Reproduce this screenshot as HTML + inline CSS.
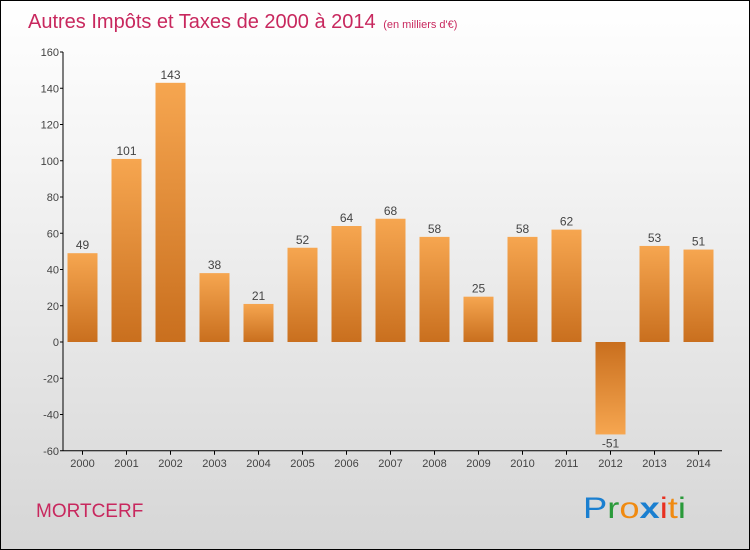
<!DOCTYPE html>
<html><head><meta charset="utf-8"><style>
body{margin:0}
#c{width:748px;height:548px;border:1px solid #000;position:relative;background:linear-gradient(#fff,#f4f4f4 30%,#d6d6d6);font-family:"Liberation Sans",sans-serif;overflow:hidden}
svg{position:absolute;left:0;top:0}
</style></head><body>
<div id="c">
<svg id="s" width="748" height="548">
<defs>
<linearGradient id="gp" x1="0" y1="0" x2="0" y2="1"><stop offset="0" stop-color="#f6a650"/><stop offset="1" stop-color="#c96f1e"/></linearGradient>
<linearGradient id="gn" x1="0" y1="0" x2="0" y2="1"><stop offset="0" stop-color="#c96f1e"/><stop offset="1" stop-color="#f6a650"/></linearGradient>
</defs>
<text x="27" y="27" font-size="20" fill="#c8285e">Autres Impôts et Taxes de 2000 à 2014 <tspan font-size="11" dx="2">(en milliers d'€)</tspan></text>
<text x="35" y="516" font-size="19" fill="#c8285e">MORTCERF</text>
<g font-size="30" font-family="'Liberation Sans',sans-serif">
<text x="582" y="517" textLength="103" lengthAdjust="spacingAndGlyphs"><tspan fill="#1a7fd0">P</tspan><tspan fill="#2a9a3a">r</tspan><tspan fill="#f08a10">o</tspan><tspan fill="#1a7fd0" font-weight="bold">x</tspan><tspan fill="#e83020">i</tspan><tspan fill="#f08a10">t</tspan><tspan fill="#2a9a3a">i</tspan></text>
</g>
<g id="g"></g>
</svg>
</div>
<script>
const years=["2000","2001","2002","2003","2004","2005","2006","2007","2008","2009","2010","2011","2012","2013","2014"];
const values=[49,101,143,38,21,52,64,68,58,25,58,62,-51,53,51];
const yTicks=[-60,-40,-20,0,20,40,60,80,100,120,140,160];
const y=v=>341-v*36.25/20;
const x=i=>81.5+i*44;
const g=document.getElementById('g');
const NS='http://www.w3.org/2000/svg';
function mk(t,a,txt){const e=document.createElementNS(NS,t);for(const k in a)e.setAttribute(k,a[k]);if(txt!=null)e.textContent=txt;g.appendChild(e);return e;}
values.forEach((v,i)=>{
 const r=mk('rect',{x:x(i)-15,y:Math.min(y(v),y(0)),width:30,height:Math.abs(y(v)-y(0)),fill:v>=0?'url(#gp)':'url(#gn)'});
 
 
 const t=mk('text',{x:x(i),y:v>=0?y(v)-4:y(v)+13,'text-anchor':'middle','font-size':12,fill:'#444'},String(v));
 
 
 const l=mk('text',{x:x(i),y:466,'text-anchor':'middle','font-size':11,fill:'#444'},years[i]);
 
 
 mk('line',{x1:x(i),x2:x(i),y1:y(-60),y2:y(-60)+4,stroke:'#000'});
});
const ya=mk('line',{x1:62,x2:62,y1:y(160),y2:y(-60),stroke:'#000'});


const xa=mk('line',{x1:62,x2:721,y1:y(-60),y2:y(-60),stroke:'#000'});


yTicks.forEach(v=>{
 mk('line',{x1:59,x2:62,y1:y(v),y2:y(v),stroke:'#000'});
 const t=mk('text',{x:58,y:y(v)+4,'text-anchor':'end','font-size':11,fill:'#444'},String(v));
 
 
});
</script>
</body></html>
